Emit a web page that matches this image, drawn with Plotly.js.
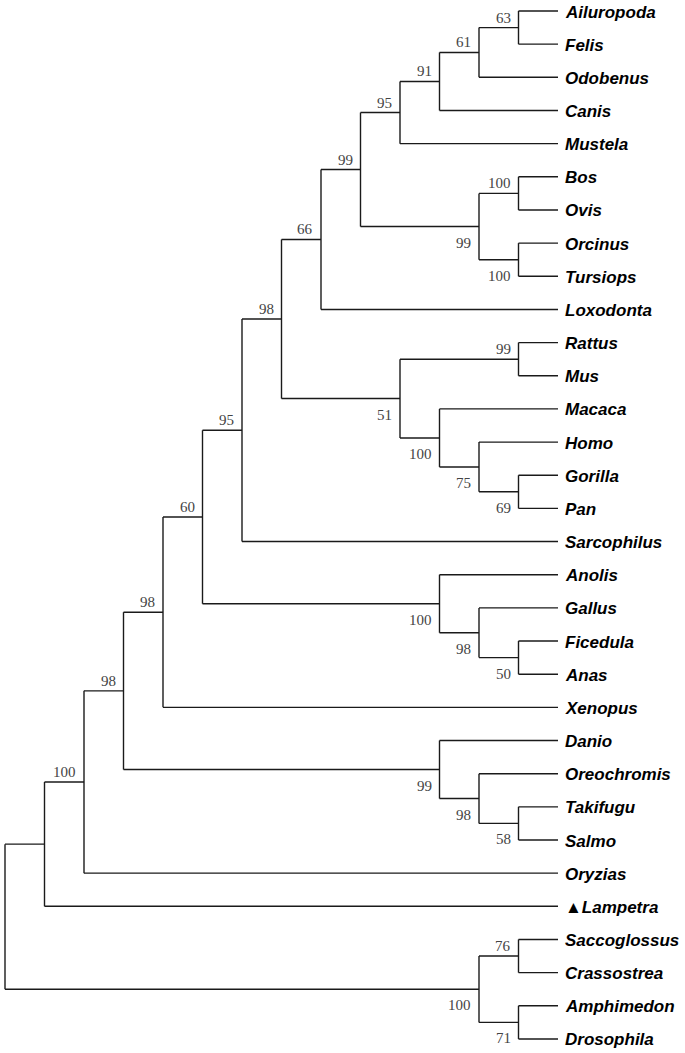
<!DOCTYPE html>
<html>
<head>
<meta charset="utf-8">
<script src="https://cdn.plot.ly/plotly-3.0.1.min.js"></script>
<style>html,body{margin:0;padding:0;background:#fff;}#chart{width:685px;height:1053px;}</style>
</head>
<body>
<div id="chart"></div>
<script>
// Leaves, top to bottom
const leaves = ["Ailuropoda","Felis","Odobenus","Canis","Mustela","Bos","Ovis","Orcinus","Tursiops",
  "Loxodonta","Rattus","Mus","Macaca","Homo","Gorilla","Pan","Sarcophilus","Anolis","Gallus",
  "Ficedula","Anas","Xenopus","Danio","Oreochromis","Takifugu","Salmo","Oryzias","Lampetra",
  "Saccoglossus","Crassostrea","Amphimedon","Drosophila"];
const leafLabels = leaves.map(n => n === "Lampetra" ? "▲Lampetra" : n);

// Internal nodes: id, upper child, lower child, bootstrap support (null = not shown)
const nodeIds   = ["A","B","C","D","E","F","G","H","I","J","K","L","M","N","O","P","Q","R","S","T","U","V","W","X","Y","Z","AA","BB","CC","DD","ROOT"];
const nodeUpper = ["Ailuropoda","A","B","C","Bos","Orcinus","E","D","H","Rattus","Gorilla","Homo","Macaca","J","I","O","Ficedula","Gallus","Anolis","P","T","Takifugu","Oreochromis","Danio","U","Y","Z","Saccoglossus","Amphimedon","BB","AA"];
const nodeLower = ["Felis","Odobenus","Canis","Mustela","Ovis","Tursiops","F","G","Loxodonta","Mus","Pan","K","L","M","N","Sarcophilus","Anas","Q","R","S","Xenopus","Salmo","V","W","X","Oryzias","Lampetra","Crassostrea","Drosophila","CC","DD"];
const support   = [63,61,91,95,100,100,99,99,66,99,69,75,100,51,98,95,50,98,100,60,98,58,98,99,98,100,null,76,71,100,null];

// ---- layout computed from topology ----
const yPos = {}, height = {};
leaves.forEach((n,i) => { yPos[n] = i; height[n] = 0; });
const idx = {}; nodeIds.forEach((id,i) => idx[id] = i);
function compute(n){
  if (n in yPos) return;
  const i = idx[n];
  compute(nodeUpper[i]); compute(nodeLower[i]);
  yPos[n] = (yPos[nodeUpper[i]] + yPos[nodeLower[i]]) / 2;
  height[n] = Math.max(height[nodeUpper[i]], height[nodeLower[i]]) + 1;
}
compute("ROOT");
const maxH = height["ROOT"];
const xPos = n => maxH - height[n];

const lx = [], ly = [];
nodeIds.forEach((id,i) => {
  const u = nodeUpper[i], l = nodeLower[i], x = xPos(id);
  lx.push(x, x, null); ly.push(yPos[u], yPos[l], null);
  [u,l].forEach(c => { lx.push(x, xPos(c), null); ly.push(yPos[c], yPos[c], null); });
});

const annotations = [];
leaves.forEach((n,i) => annotations.push({
  x: maxH, y: i, xref:'x', yref:'y', text: '<b><i>'+leafLabels[i]+'</i></b>', showarrow:false,
  xanchor:'left', yanchor:'middle', xshift:5, yshift:-1,
  font:{family:'"Liberation Sans", Arial, sans-serif', size:17, color:'#000'}
}));
// above/below placement: upper child -> label above, lower child -> below
const isUpper = {};
nodeIds.forEach((id,i) => { isUpper[nodeUpper[i]] = true; isUpper[nodeLower[i]] = false; });
nodeIds.forEach((id,i) => {
  if (support[i] === null) return;
  annotations.push({
    x: xPos(id), y: yPos[id], xref:'x', yref:'y', text: String(support[i]), showarrow:false,
    xanchor:'right', yanchor:'middle', xshift:-6, yshift: isUpper[id] ? 10 : -16,
    font:{family:'"Liberation Serif", "Times New Roman", serif', size:15, color:'#444'}
  });
});

const trace = { x: lx, y: ly, mode:'lines', type:'scatter', line:{color:'#1a1a1a', width:1.4},
  hoverinfo:'skip', showlegend:false };

const layout = {
  width:685, height:1053, margin:{l:0,r:0,t:0,b:0},
  paper_bgcolor:'#fff', plot_bgcolor:'#fff',
  xaxis:{range:[-0.1266, -0.1266 + 685/39.5], visible:false, fixedrange:true},
  yaxis:{range:[-11/33.16 + 1053/33.16, -11/33.16], visible:false, fixedrange:true},
  annotations: annotations, showlegend:false
};
Plotly.newPlot('chart', [trace], layout, {staticPlot:true, displayModeBar:false});
</script>
</body>
</html>
